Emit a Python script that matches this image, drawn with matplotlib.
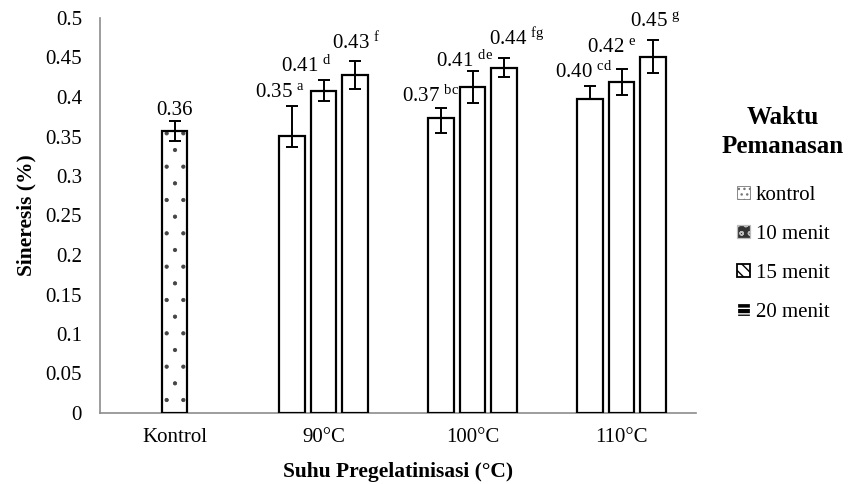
import matplotlib
matplotlib.use("Agg")
import matplotlib.pyplot as plt
import numpy as np
from matplotlib.patches import Patch

plt.rcParams['font.family'] = ['Liberation Serif', 'DejaVu Serif']
plt.rcParams['mathtext.fontset'] = 'custom'
plt.rcParams['mathtext.rm'] = 'Liberation Serif'
plt.rcParams['mathtext.it'] = 'Liberation Serif:italic'

# ---- data ----
categories = ['Kontrol', '90°C', '100°C', '110°C']
kontrol_value = 0.357
kontrol_err = 0.013
kontrol_label = '0.36'

series_names = ['10 menit', '15 menit', '20 menit']
values_10 = [0.351, 0.373, 0.397]
values_15 = [0.408, 0.413, 0.419]
values_20 = [0.428, 0.437, 0.451]
err_plus_10 = [0.037, 0.013, 0.017]
err_minus_10 = [0.014, 0.018, 0.0]
err_plus_15 = [0.013, 0.020, 0.0165]
err_minus_15 = [0.013, 0.020, 0.016]
err_plus_20 = [0.018, 0.012, 0.021]
err_minus_20 = [0.018, 0.012, 0.021]
value_labels_10 = ['0.35', '0.37', '0.40']
value_labels_15 = ['0.41', '0.41', '0.42']
value_labels_20 = ['0.43', '0.44', '0.45']
letters_10 = ['a', 'bc', 'cd']
letters_15 = ['d', 'de', 'e']
letters_20 = ['f', 'fg', 'g']
legend_title = ['Waktu', 'Pemanasan']
legend_labels = ['kontrol', '10 menit', '15 menit', '20 menit']

# ---- style / layout ----
W, H = 848, 484
DPI = 100
PX = 72.0 / DPI
FS = 15
fig = plt.figure(figsize=(W / DPI, H / DPI), dpi=DPI)
ax = fig.add_axes([100 / W, (H - 413) / H, 596 / W, 395 / H])

bar_w = 0.171
step = 0.211
edge_lw = 1.6
err_kw = dict(ecolor='black', elinewidth=1.4, capsize=4, capthick=1.4)

# label offsets (px) relative to error-bar top: (dx, dy)
lab_off_k = (0, 6)
lab_off_10 = [(-12, 9), (-10, 6), (-6.5, 8)]
lab_off_15 = [(-17, 9), (-7.5, 4), (-10, 17)]
lab_off_20 = [(1, 11), (13, 13), (2.5, 13)]

# Kontrol bar (dotted)
plt.rcParams['hatch.linewidth'] = 0.6
ax.bar([0], [kontrol_value], width=bar_w, color='white', edgecolor='#444444',
       hatch='.', linewidth=0, zorder=2)
plt.rcParams['hatch.linewidth'] = 1.0
ax.bar([0], [kontrol_value], width=bar_w, color='none', edgecolor='black',
       linewidth=edge_lw, zorder=3)
ax.errorbar([0], [kontrol_value], yerr=[[kontrol_err], [kontrol_err]], fmt='none',
            zorder=4, **err_kw)
ax.annotate(kontrol_label, (0, kontrol_value + kontrol_err),
            xytext=(lab_off_k[0] * PX, lab_off_k[1] * PX), textcoords='offset points',
            ha='center', va='baseline', fontsize=FS)

groups = np.arange(1, len(categories))
all_vals = [values_10, values_15, values_20]
all_ep = [err_plus_10, err_plus_15, err_plus_20]
all_em = [err_minus_10, err_minus_15, err_minus_20]
all_vl = [value_labels_10, value_labels_15, value_labels_20]
all_lt = [letters_10, letters_15, letters_20]
all_off = [lab_off_10, lab_off_15, lab_off_20]

for i in range(3):
    xs = groups + (i - 1) * step
    ax.bar(xs, all_vals[i], width=bar_w, color='white', edgecolor='black',
           linewidth=edge_lw, zorder=3)
    ax.errorbar(xs, all_vals[i], yerr=[all_em[i], all_ep[i]], fmt='none',
                zorder=4, **err_kw)
    for j, x in enumerate(xs):
        top = all_vals[i][j] + all_ep[i][j]
        dx, dy = all_off[i][j]
        txt = all_vl[i][j] + r' $^{\mathrm{' + all_lt[i][j] + '}}$'
        ax.annotate(txt, (x, top), xytext=(dx * PX, dy * PX),
                    textcoords='offset points', ha='center', va='baseline',
                    fontsize=FS)

ax.set_xlim(-0.5, 3.5)
ax.set_ylim(0, 0.5)
ax.set_yticks(np.arange(0, 0.501, 0.05))
ax.set_yticklabels(['0'] + ['%g' % v for v in np.arange(0.05, 0.501, 0.05)])
ax.set_xticks(range(len(categories)))
ax.set_xticklabels(categories)
ax.tick_params(axis='both', length=0, labelsize=FS)
ax.tick_params(axis='y', pad=13)
ax.tick_params(axis='x', pad=11)
for s in ['top', 'right']:
    ax.spines[s].set_visible(False)
for s in ['left', 'bottom']:
    ax.spines[s].set_color('#8c8c8c')
    ax.spines[s].set_linewidth(1.2)

ax.set_ylabel('Sineresis (%)', fontsize=15.5, fontweight='bold')
ax.yaxis.set_label_coords(-0.106, 0.5)
ax.set_xlabel('Suhu Pregelatinisasi (°C)', fontsize=15.5, fontweight='bold')
ax.xaxis.set_label_coords(0.5, -0.149)
ax.xaxis.label.set_va('center')

# legend title (two centred lines)
fig.text(783 / W, 1 - 118 / H, legend_title[0], ha='center', va='center',
         fontsize=18, fontweight='bold')
fig.text(783 / W, 1 - 147 / H, legend_title[1], ha='center', va='center',
         fontsize=18, fontweight='bold')

handles = [
    Patch(facecolor='white', edgecolor='#777777', hatch='...', linewidth=0.6),
    Patch(facecolor='#333333', edgecolor='#bbbbbb', hatch='oo', linewidth=0.9),
    Patch(facecolor='white', edgecolor='black', hatch='\\\\\\', linewidth=1.3),
    Patch(facecolor='black', edgecolor='white', hatch='---', linewidth=0.9),
]
leg = fig.legend(handles, legend_labels, loc='upper left',
                 bbox_to_anchor=(737 / W, 1 - 186 / H), frameon=False,
                 fontsize=FS, handlelength=0.6, handleheight=0.6,
                 handletextpad=0.3, labelspacing=0.96, borderaxespad=0,
                 borderpad=0)

fig.savefig('out.png', dpi=DPI)
